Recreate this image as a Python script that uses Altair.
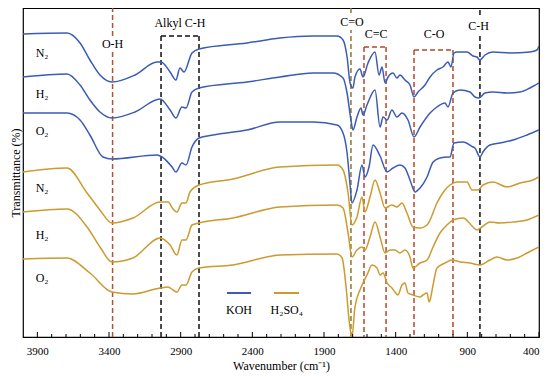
import altair as alt
import pandas as pd

# ---------------- data ----------------
koh_n2_wn = [4000, 3693, 3602, 3533, 3463, 3379, 3219, 3065, 3037, 2974, 2933, 2905, 2877, 2821, 2772, 2437, 2207, 1977, 1809, 1767, 1739, 1718, 1698, 1684, 1649, 1628, 1593, 1544, 1516, 1495, 1474, 1453, 1419, 1391, 1370, 1335, 1300, 1272, 1244, 1195, 1160, 1112, 1070, 1035, 1014, 993, 972, 902, 860, 833, 812, 777, 721, 602, 463, 414, 400]
koh_n2_t = [303, 304, 294, 277, 262, 255, 262, 275, 275, 265, 257, 269, 265, 284, 288, 294, 299, 301, 301, 297, 280, 254, 249, 260, 268, 260, 274, 285, 262, 270, 254, 260, 264, 259, 262, 257, 252, 240, 245, 252, 260, 267, 270, 275, 270, 284, 285, 285, 281, 280, 277, 282, 285, 284, 285, 287, 291]

koh_h2_wn = [4000, 3693, 3602, 3533, 3463, 3379, 3219, 3044, 2974, 2933, 2891, 2863, 2821, 2772, 2437, 2207, 1977, 1837, 1767, 1739, 1712, 1698, 1670, 1642, 1628, 1600, 1544, 1509, 1488, 1460, 1426, 1391, 1356, 1314, 1272, 1230, 1160, 1112, 1056, 1035, 1000, 951, 881, 847, 819, 777, 721, 623, 532, 463, 400]
koh_h2_t = [260, 263, 252, 237, 225, 219, 225, 238, 227, 219, 230, 229, 245, 249, 255, 260, 264, 264, 259, 244, 217, 207, 220, 229, 222, 232, 247, 210, 220, 217, 227, 220, 224, 217, 200, 210, 224, 230, 234, 230, 244, 247, 245, 240, 239, 244, 245, 244, 245, 249, 254]

koh_o2_wn = [4000, 3693, 3602, 3533, 3442, 3379, 3065, 3030, 2960, 2933, 2891, 2863, 2821, 2772, 2674, 2437, 2207, 1977, 1809, 1767, 1739, 1718, 1705, 1670, 1635, 1614, 1586, 1558, 1509, 1460, 1419, 1370, 1335, 1300, 1265, 1230, 1181, 1139, 1091, 1035, 1021, 993, 930, 860, 847, 812, 791, 742, 672, 581, 484, 400]
koh_o2_t = [224, 224, 217, 202, 180, 178, 182, 180, 170, 165, 174, 172, 190, 199, 202, 207, 215, 215, 212, 204, 184, 152, 134, 147, 172, 160, 170, 192, 181, 165, 169, 172, 169, 157, 145, 149, 160, 175, 179, 180, 180, 194, 195, 190, 189, 180, 185, 192, 194, 197, 202, 207]

acid_n2_wn = [4000, 3693, 3553, 3463, 3379, 3233, 3044, 2988, 2953, 2926, 2891, 2863, 2835, 2772, 2535, 2207, 1809, 1767, 1732, 1705, 1670, 1635, 1614, 1579, 1544, 1509, 1474, 1426, 1391, 1356, 1321, 1279, 1230, 1181, 1160, 1112, 1056, 1021, 972, 902, 867, 826, 791, 721, 623, 532, 442, 400]
acid_n2_t = [165, 169, 144, 127, 114, 119, 135, 135, 128, 125, 134, 134, 145, 152, 158, 170, 172, 167, 144, 112, 120, 140, 125, 140, 157, 144, 129, 132, 130, 134, 124, 110, 109, 112, 117, 134, 147, 152, 155, 155, 147, 147, 152, 155, 150, 154, 157, 160]

acid_h2_wn = [4000, 3693, 3553, 3463, 3379, 3233, 3044, 2974, 2926, 2891, 2863, 2821, 2772, 2535, 2207, 1809, 1767, 1732, 1705, 1670, 1635, 1614, 1579, 1544, 1509, 1474, 1440, 1405, 1370, 1335, 1300, 1279, 1230, 1181, 1139, 1091, 1042, 1000, 930, 860, 833, 798, 742, 672, 581, 484, 400]
acid_h2_t = [125, 128, 110, 90, 75, 79, 99, 92, 82, 97, 97, 112, 114, 119, 130, 132, 129, 104, 80, 87, 90, 87, 100, 115, 100, 84, 87, 87, 84, 87, 80, 69, 74, 77, 90, 104, 112, 117, 119, 110, 107, 110, 115, 114, 115, 117, 122]

acid_o2_wn = [4000, 3693, 3533, 3379, 3233, 3044, 2988, 2953, 2926, 2891, 2863, 2821, 2772, 2535, 2207, 1809, 1774, 1746, 1725, 1705, 1684, 1649, 1628, 1600, 1565, 1530, 1509, 1488, 1460, 1426, 1405, 1384, 1356, 1335, 1314, 1279, 1230, 1209, 1181, 1167, 1160, 1139, 1112, 1056, 1007, 951, 881, 812, 742, 693, 623, 553, 484, 400]
acid_o2_t = [78, 79, 64, 45, 43, 49, 50, 47, 45, 52, 52, 65, 69, 72, 82, 83, 79, 50, 17, 0, 30, 47, 54, 62, 72, 69, 62, 64, 54, 49, 45, 42, 52, 54, 44, 42, 40, 42, 44, 35, 37, 52, 69, 74, 77, 75, 74, 72, 77, 80, 77, 79, 84, 90]

series = [
    ("KOH", "N2", koh_n2_wn, koh_n2_t),
    ("KOH", "H2", koh_h2_wn, koh_h2_t),
    ("KOH", "O2", koh_o2_wn, koh_o2_t),
    ("H2SO4", "N2", acid_n2_wn, acid_n2_t),
    ("H2SO4", "H2", acid_h2_wn, acid_h2_t),
    ("H2SO4", "O2", acid_o2_wn, acid_o2_t),
]

# curve labels (gas) : wavenumber, level
gas_labels = ["N\u2082", "H\u2082", "O\u2082", "N\u2082", "H\u2082", "O\u2082"]
gas_label_wn = [3867, 3867, 3867, 3867, 3867, 3867]
gas_label_t = [284, 243, 206, 149, 102, 59]

# band annotations
band_names = ["O-H", "Alkyl C-H", "C=O", "C=C", "C-O", "C-H"]
band_label_wn = [3375, 2905, 1705, 1537, 1132, 822]
band_label_t = [293, 314, 315, 303, 303, 311]

# single dashed lines: wn, from, to, colour
line_wn = [3375, 3375, 1712, 1712, 812, 812]
line_from = [0, 301, 0, 324, 0, 322]
line_to = [285, 329, 307, 329, 303, 329]
line_col = ["#b0562e", "#b0562e", "#8a7632", "#8a7632", "#111111", "#111111"]

# boxes: left wn, right wn, top level, colour
box_left = [3037, 1621, 1272]
box_right = [2772, 1467, 1000]
box_top = [301, 290, 287]
box_col = ["#111111", "#b04a2a", "#b04a2a"]

major_ticks = [3900, 3400, 2900, 2400, 1900, 1400, 900, 400]
minor_ticks = [v for v in range(500, 4000, 100) if v not in major_ticks]

legend_names = ["KOH", "H\u2082SO\u2084"]
legend_line_from = [2577, 2249]
legend_line_to = [2409, 2074]
legend_text_wn = [2493, 2160]

BLUE = "#3b5bb5"
ORANGE = "#cc9a2e"
FONT = "Liberation Serif"

# ---------------- build tables ----------------
rows = []
for agent, gas, wn, t in series:
    for w, v in zip(wn, t):
        rows.append({"agent": agent, "gas": gas, "key": agent + gas, "wn": w, "T": v})
spec_df = pd.DataFrame(rows)

xscale = alt.Scale(domain=[400, 4000], reverse=True, nice=False, zero=False)
yscale = alt.Scale(domain=[0, 329], nice=False, zero=False)

X = alt.X("wn:Q", scale=xscale,
          axis=alt.Axis(title="Wavenumber (cm\u207b\u00b9)", values=major_ticks, format="d",
                        ticks=False, domain=False, grid=False, labelFont=FONT, labelFontSize=11,
                        labelColor="black", labelPadding=8, titleFont=FONT, titleFontSize=12,
                        titleFontWeight="normal", titleColor="black", titlePadding=4))
Y = alt.Y("T:Q", scale=yscale,
          axis=alt.Axis(title="Transmittance (%)", labels=False, ticks=False, domain=False,
                        grid=False, titleFont=FONT, titleFontSize=12, titleFontWeight="normal",
                        titleColor="black", titlePadding=1))

spectra = alt.Chart(spec_df).mark_line(strokeWidth=1.5, interpolate="monotone", clip=True).encode(
    x=X, y=Y,
    color=alt.Color("agent:N", scale=alt.Scale(domain=["KOH", "H2SO4"], range=[BLUE, ORANGE]), legend=None),
    detail="key:N",
)

lines_df = pd.DataFrame({"wn": line_wn, "y0": line_from, "y1": line_to, "col": line_col})
vlines = alt.Chart(lines_df).mark_rule(strokeDash=[5, 3], strokeWidth=1.5).encode(
    x=alt.X("wn:Q", scale=xscale), y=alt.Y("y0:Q", scale=yscale), y2="y1:Q",
    color=alt.Color("col:N", scale=None),
)

box_df = pd.DataFrame({"l": box_left, "r": box_right, "top": box_top, "col": box_col})
box_sides = []
for side in ["l", "r"]:
    box_sides.append(alt.Chart(box_df).mark_rule(strokeDash=[5, 3], strokeWidth=1.5).encode(
        x=alt.X(f"{side}:Q", scale=xscale), y=alt.Y("top:Q", scale=yscale), y2=alt.datum(0),
        color=alt.Color("col:N", scale=None)))
box_top_rule = alt.Chart(box_df).mark_rule(strokeDash=[5, 3], strokeWidth=1.5).encode(
    x=alt.X("l:Q", scale=xscale), x2="r:Q", y=alt.Y("top:Q", scale=yscale),
    color=alt.Color("col:N", scale=None))

band_df = pd.DataFrame({"wn": band_label_wn, "T": band_label_t, "name": band_names})
band_text = alt.Chart(band_df).mark_text(font=FONT, fontSize=12, color="black").encode(
    x=alt.X("wn:Q", scale=xscale), y=alt.Y("T:Q", scale=yscale), text="name:N")

gas_df = pd.DataFrame({"wn": gas_label_wn, "T": gas_label_t, "name": gas_labels})
gas_text = alt.Chart(gas_df).mark_text(font=FONT, fontSize=12, color="black").encode(
    x=alt.X("wn:Q", scale=xscale), y=alt.Y("T:Q", scale=yscale), text="name:N")

maj_df = pd.DataFrame({"wn": major_ticks})
min_df = pd.DataFrame({"wn": minor_ticks})
maj_ticks = alt.Chart(maj_df).mark_rule(color="black", strokeWidth=1).encode(
    x=alt.X("wn:Q", scale=xscale), y=alt.value(329), y2=alt.value(324))
min_ticks = alt.Chart(min_df).mark_rule(color="black", strokeWidth=1).encode(
    x=alt.X("wn:Q", scale=xscale), y=alt.value(329), y2=alt.value(326))

leg_df = pd.DataFrame({"name": legend_names, "a": legend_line_from, "b": legend_line_to,
                       "tw": legend_text_wn, "agent": ["KOH", "H2SO4"]})
leg_lines = alt.Chart(leg_df).mark_rule(strokeWidth=2).encode(
    x=alt.X("a:Q", scale=xscale), x2="b:Q", y=alt.value(285),
    color=alt.Color("agent:N", scale=alt.Scale(domain=["KOH", "H2SO4"], range=[BLUE, ORANGE]), legend=None))
leg_text = alt.Chart(leg_df).mark_text(font=FONT, fontSize=12, color="black").encode(
    x=alt.X("tw:Q", scale=xscale), y=alt.value(302), text="name:N")

chart = alt.layer(
    vlines, *box_sides, box_top_rule, spectra, band_text, gas_text, maj_ticks, min_ticks,
    leg_lines, leg_text,
).properties(
    width=516, height=329,
    autosize=alt.AutoSizeParams(type="none"),
    padding={"left": 15, "top": 0, "right": 3, "bottom": 40},
    background="white",
).configure_view(stroke="black", strokeWidth=1.2)

chart.save("out.html", embed_options={"renderer": "svg", "actions": False})
